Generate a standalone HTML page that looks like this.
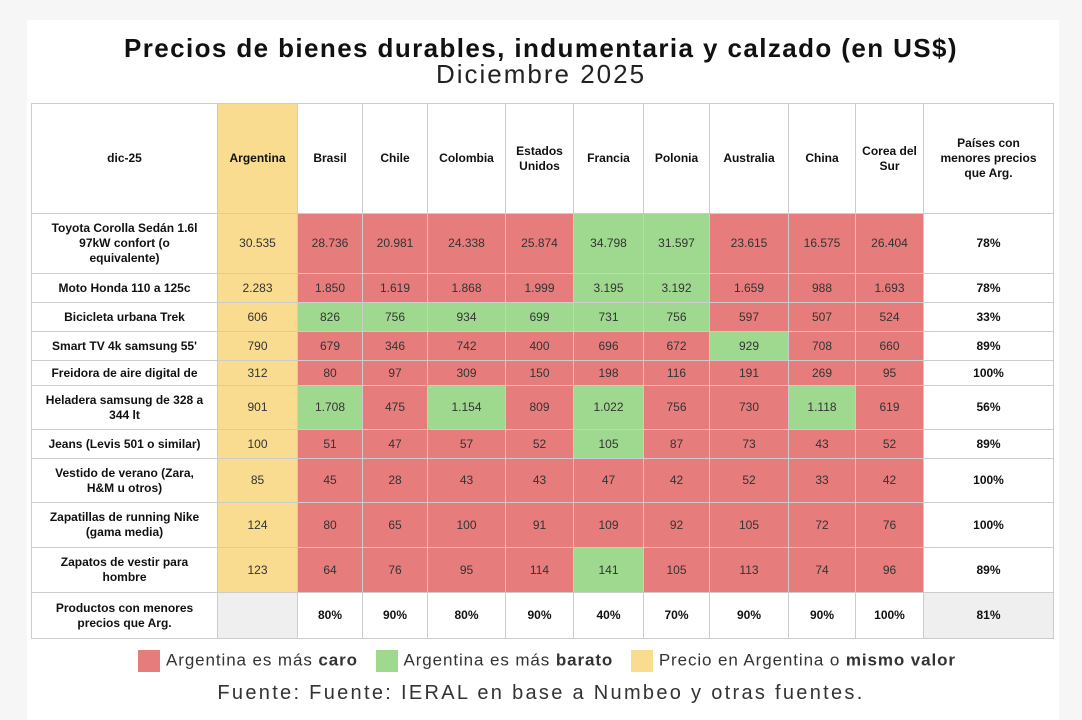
<!DOCTYPE html>
<html><head><meta charset="utf-8"><style>
body{margin:0;width:1082px;height:716px;background:#f6f6f6;font-family:"Liberation Sans",Arial,sans-serif;overflow:hidden;position:relative}
.card{position:absolute;left:27px;top:20px;width:1032px;height:700px;background:#fff}
h1{position:absolute;left:0;width:1082px;top:33px;margin:0;text-align:center;font-size:26px;font-weight:bold;color:#111;letter-spacing:1.4px}
h2{position:absolute;left:0;width:1082px;top:59px;margin:0;text-align:center;font-size:26px;font-weight:normal;color:#222;letter-spacing:2px}
table{position:absolute;left:31px;top:103px;border-collapse:collapse;table-layout:fixed;width:1022px}
td{border:1px solid #ccc;text-align:center;font-size:12px;color:#333;padding:0 4px;line-height:15px}
td.h{font-weight:bold;font-size:12px;color:#111}
td.f{padding:0 12px}
td.l{padding:0 14px}
td.c{padding:0 6px}
.y{background:#f9dc8f}.r{background:#e67c7c}.g{background:#9fd98f}.gr{background:#efefef}
.b{font-weight:bold;color:#111}
.leg{position:absolute;top:650px;left:0;width:1082px;text-align:center;font-size:17px;color:#333;letter-spacing:0.9px}
.leg span.s{display:inline-block;width:22px;height:22px;vertical-align:middle;margin:0 6px 0 12px}
.src{position:absolute;top:682px;left:0;width:1082px;text-align:center;font-size:20px;color:#333;letter-spacing:2.3px}
</style></head><body>
<div class="card"></div>
<h1>Precios de bienes durables, indumentaria y calzado (en US$)</h1>
<h2>Diciembre 2025</h2>
<table>
<colgroup><col style="width:186px"><col style="width:80px"><col style="width:65px"><col style="width:65px"><col style="width:78px"><col style="width:68px"><col style="width:70px"><col style="width:66px"><col style="width:79px"><col style="width:67px"><col style="width:68px"><col style="width:130px"></colgroup>
<tr style="height:110px"><td class="h">dic-25</td><td class="h y">Argentina</td><td class="h">Brasil</td><td class="h">Chile</td><td class="h">Colombia</td><td class="h">Estados Unidos</td><td class="h">Francia</td><td class="h">Polonia</td><td class="h">Australia</td><td class="h">China</td><td class="h c">Corea del Sur</td><td class="h l">Países con menores precios que Arg.</td></tr>
<tr style="height:60px"><td class="h f">Toyota Corolla Sedán 1.6l 97kW confort (o equivalente)</td><td class="y">30.535</td><td class="r">28.736</td><td class="r">20.981</td><td class="r">24.338</td><td class="r">25.874</td><td class="g">34.798</td><td class="g">31.597</td><td class="r">23.615</td><td class="r">16.575</td><td class="r">26.404</td><td class="b">78%</td></tr>
<tr style="height:29px"><td class="h">Moto Honda 110 a 125c</td><td class="y">2.283</td><td class="r">1.850</td><td class="r">1.619</td><td class="r">1.868</td><td class="r">1.999</td><td class="g">3.195</td><td class="g">3.192</td><td class="r">1.659</td><td class="r">988</td><td class="r">1.693</td><td class="b">78%</td></tr>
<tr style="height:29px"><td class="h">Bicicleta urbana Trek</td><td class="y">606</td><td class="g">826</td><td class="g">756</td><td class="g">934</td><td class="g">699</td><td class="g">731</td><td class="g">756</td><td class="r">597</td><td class="r">507</td><td class="r">524</td><td class="b">33%</td></tr>
<tr style="height:29px"><td class="h">Smart TV 4k samsung 55'</td><td class="y">790</td><td class="r">679</td><td class="r">346</td><td class="r">742</td><td class="r">400</td><td class="r">696</td><td class="r">672</td><td class="g">929</td><td class="r">708</td><td class="r">660</td><td class="b">89%</td></tr>
<tr style="height:25px"><td class="h">Freidora de aire digital de</td><td class="y">312</td><td class="r">80</td><td class="r">97</td><td class="r">309</td><td class="r">150</td><td class="r">198</td><td class="r">116</td><td class="r">191</td><td class="r">269</td><td class="r">95</td><td class="b">100%</td></tr>
<tr style="height:44px"><td class="h f">Heladera samsung de 328 a 344 lt</td><td class="y">901</td><td class="g">1.708</td><td class="r">475</td><td class="g">1.154</td><td class="r">809</td><td class="g">1.022</td><td class="r">756</td><td class="r">730</td><td class="g">1.118</td><td class="r">619</td><td class="b">56%</td></tr>
<tr style="height:29px"><td class="h">Jeans (Levis 501 o similar)</td><td class="y">100</td><td class="r">51</td><td class="r">47</td><td class="r">57</td><td class="r">52</td><td class="g">105</td><td class="r">87</td><td class="r">73</td><td class="r">43</td><td class="r">52</td><td class="b">89%</td></tr>
<tr style="height:44px"><td class="h f">Vestido de verano (Zara, H&amp;M u otros)</td><td class="y">85</td><td class="r">45</td><td class="r">28</td><td class="r">43</td><td class="r">43</td><td class="r">47</td><td class="r">42</td><td class="r">52</td><td class="r">33</td><td class="r">42</td><td class="b">100%</td></tr>
<tr style="height:45px"><td class="h f">Zapatillas de running Nike (gama media)</td><td class="y">124</td><td class="r">80</td><td class="r">65</td><td class="r">100</td><td class="r">91</td><td class="r">109</td><td class="r">92</td><td class="r">105</td><td class="r">72</td><td class="r">76</td><td class="b">100%</td></tr>
<tr style="height:45px"><td class="h f">Zapatos de vestir para hombre</td><td class="y">123</td><td class="r">64</td><td class="r">76</td><td class="r">95</td><td class="r">114</td><td class="g">141</td><td class="r">105</td><td class="r">113</td><td class="r">74</td><td class="r">96</td><td class="b">89%</td></tr>
<tr style="height:46px"><td class="h f">Productos con menores precios que Arg.</td><td class="gr"></td><td class="b">80%</td><td class="b">90%</td><td class="b">80%</td><td class="b">90%</td><td class="b">40%</td><td class="b">70%</td><td class="b">90%</td><td class="b">90%</td><td class="b">100%</td><td class="b gr">81%</td></tr>
</table>
<div class="leg"><span class="s r"></span>Argentina es más <b>caro</b> <span class="s g"></span>Argentina es más <b>barato</b> <span class="s y"></span>Precio en Argentina o <b>mismo valor</b></div>
<div class="src">Fuente: Fuente: IERAL en base a Numbeo y otras fuentes.</div>
</body></html>
